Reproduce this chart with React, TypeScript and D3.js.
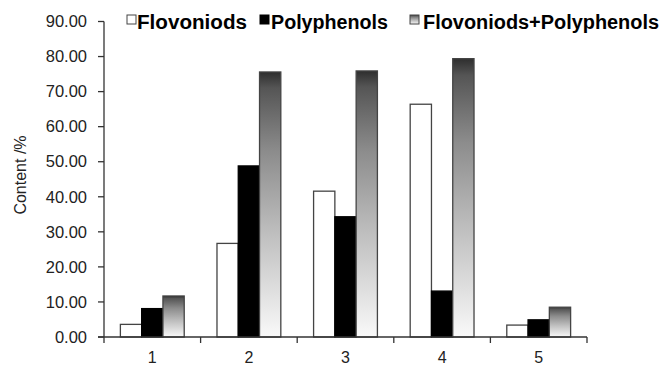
import React from "react";
import * as d3 from "d3";

const categories = ["1", "2", "3", "4", "5"];
const seriesNames = ["Flovoniods", "Polyphenols", "Flovoniods+Polyphenols"];
const flovoniods = [3.6, 26.7, 41.6, 66.4, 3.4];
const polyphenols = [8.1, 48.8, 34.3, 13.1, 4.9];
const combined = [11.7, 75.6, 75.9, 79.4, 8.5];
const yTicks = [0, 10, 20, 30, 40, 50, 60, 70, 80, 90];

const W = 664;
const H = 365;
const left = 104;
const right = 587;
const top = 21.5;
const bottom = 337;

export default function App() {
  const x = d3.scaleBand<string>().domain(categories).range([left, right]).paddingInner(0).paddingOuter(0);
  const inner = d3
    .scaleBand<number>()
    .domain([0, 1, 2])
    .range([0, x.bandwidth()])
    .paddingOuter(0.77)
    .paddingInner(0);
  const y = d3.scaleLinear().domain([0, 90]).range([bottom, top]);
  const series = [flovoniods, polyphenols, combined];
  const fills = ["#ffffff", "#000000", "url(#shade)"];
  const axisColor = "#333";
  const barStroke = "#444";

  const legendItems = [
    { x: 127, textX: 137, len: 110 },
    { x: 260, textX: 271, len: 117 },
    { x: 410, textX: 423, len: 236 },
  ];

  return (
    <svg
      width={W}
      height={H}
      style={{ position: "absolute", left: 0, top: 0, background: "#fff" }}
      fontFamily="Liberation Sans, Arial, sans-serif"
    >
      <defs>
        <linearGradient id="shade" x1="0" y1="0" x2="0" y2="1">
          <stop offset="0" stopColor="#2e2e2e" />
          <stop offset="0.06" stopColor="#555" />
          <stop offset="0.3" stopColor="#8c8c8c" />
          <stop offset="0.6" stopColor="#bdbdbd" />
          <stop offset="1" stopColor="#f9f9f9" />
        </linearGradient>
      </defs>

      {/* bars */}
      {categories.map((c, ci) =>
        series.map((vals, si) => {
          const bx = (x(c) ?? 0) + (inner(si) ?? 0);
          const by = y(vals[ci]);
          return (
            <rect
              key={`${c}-${si}`}
              x={bx}
              y={by}
              width={inner.bandwidth()}
              height={bottom - by}
              fill={fills[si]}
              stroke={si === 1 ? "#000" : barStroke}
              strokeWidth={1.3}
            />
          );
        })
      )}

      {/* y axis */}
      <line x1={left} x2={left} y1={top} y2={bottom + 6} stroke={axisColor} strokeWidth={1.3} />
      {yTicks.map((t) => (
        <g key={t}>
          <line x1={left - 6} x2={left} y1={y(t)} y2={y(t)} stroke={axisColor} strokeWidth={1.3} />
          <text x={left - 17} y={y(t)} dy="0.35em" textAnchor="end" fontSize={16.5} fill="#222">
            {t.toFixed(2)}
          </text>
        </g>
      ))}
      <text
        transform={`translate(26,175) rotate(-90)`}
        textAnchor="middle"
        fontSize={16}
        fill="#222"
      >
        Content /%
      </text>

      {/* x axis */}
      <line x1={left - 6} x2={right} y1={bottom} y2={bottom} stroke={axisColor} strokeWidth={1.3} />
      {categories.map((c, i) => (
        <line
          key={`xt${i}`}
          x1={(x(c) ?? 0) + x.bandwidth()}
          x2={(x(c) ?? 0) + x.bandwidth()}
          y1={bottom}
          y2={bottom + 6}
          stroke={axisColor}
          strokeWidth={1.3}
        />
      ))}
      {categories.map((c) => (
        <text
          key={`xl${c}`}
          x={(x(c) ?? 0) + x.bandwidth() / 2}
          y={363}
          textAnchor="middle"
          fontSize={16}
          fill="#222"
        >
          {c}
        </text>
      ))}

      {/* legend */}
      {seriesNames.map((name, i) => (
        <g key={name}>
          <rect
            x={legendItems[i].x}
            y={15}
            width={9}
            height={9}
            fill={fills[i]}
            stroke={i === 1 ? "#000" : barStroke}
            strokeWidth={1}
          />
          <text
            x={legendItems[i].textX}
            y={29}
            fontSize={20}
            fontWeight="bold"
            fill="#000"
            textLength={legendItems[i].len}
            lengthAdjust="spacingAndGlyphs"
          >
            {name}
          </text>
        </g>
      ))}
    </svg>
  );
}
